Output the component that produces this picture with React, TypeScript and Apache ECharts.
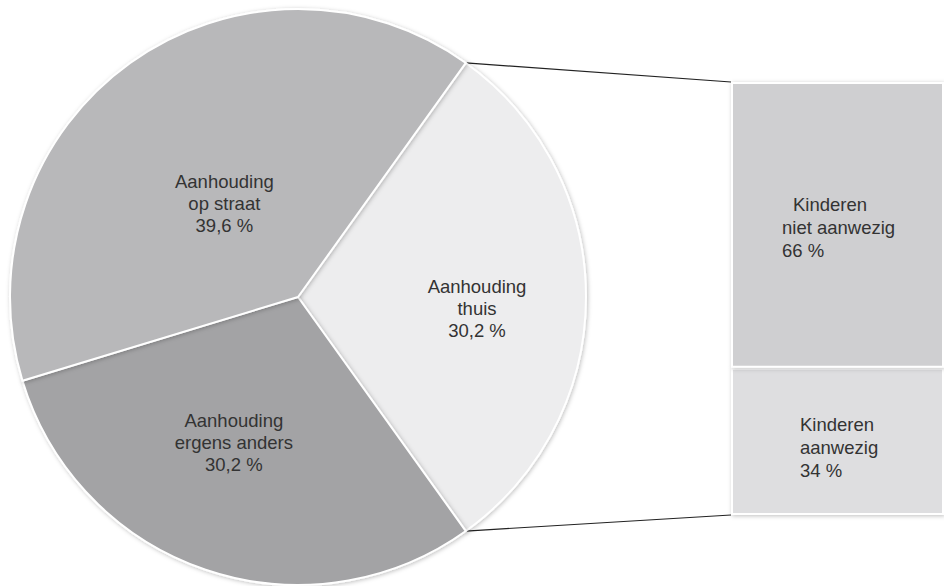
import React, { useEffect, useRef } from "react";
import * as echarts from "echarts";

const pieNames = ["Aanhouding\nthuis", "Aanhouding\nergens anders", "Aanhouding\nop straat"];
const pieValues = [30.2, 30.2, 39.6];
const pieLabels = ["30,2 %", "30,2 %", "39,6 %"];
const barNames = ["Kinderen\naanwezig", "Kinderen\nniet aanwezig"];
const barValues = [34, 66];
const barLabels = ["34 %", "66 %"];

const PIE_COLORS = ["#ededee", "#a3a3a5", "#b8b8ba"];
const BAR_COLORS = ["#dedee0", "#cfcfd1"];
const FONT = "Liberation Sans, Arial, sans-serif";

export default function App() {
  const ref = useRef<HTMLDivElement>(null);
  useEffect(() => {
    if (!ref.current) return;
    const chart = echarts.init(ref.current, undefined, { renderer: "svg" });
    const H = 586;
    const cx = 298, cy = 297, R = 288;
    const total = pieValues.reduce((a, b) => a + b, 0);
    const startAngle = (pieValues[0] / total) * 360 / 2;
    const gridLeft = 731, gridTop = 82, gridBottom = 71;
    const rad = (startAngle * Math.PI) / 180;
    const pTop = [cx + R * Math.cos(rad), cy - R * Math.sin(rad)];
    const pBot = [cx + R * Math.cos(rad), cy + R * Math.sin(rad)];
    const labelOffsets = [[32, 11], [-17, 6], [12, 26]];

    chart.setOption({
      animation: false,
      backgroundColor: "#ffffff",
      grid: { left: gridLeft, top: gridTop, bottom: gridBottom, right: -40 },
      xAxis: { type: "category", data: ["k"], show: false },
      yAxis: { type: "value", min: 0, max: 100, show: false },
      graphic: [
        { type: "line", shape: { x1: pTop[0], y1: pTop[1], x2: gridLeft, y2: gridTop }, style: { stroke: "#222", lineWidth: 1.2 }, z: 1 },
        { type: "line", shape: { x1: pBot[0], y1: pBot[1], x2: gridLeft, y2: H - gridBottom }, style: { stroke: "#222", lineWidth: 1.2 }, z: 1 },
      ],
      series: [
        {
          type: "pie",
          center: [cx, cy],
          radius: [0, R],
          startAngle,
          clockwise: true,
          silent: true,
          data: pieValues.map((v, i) => ({
            value: v,
            name: pieNames[i],
            itemStyle: { color: PIE_COLORS[i] },
          })),
          itemStyle: {
            borderColor: "#ffffff",
            borderWidth: 2,
            shadowBlur: 4,
            shadowColor: "rgba(0,0,0,0.25)",
            shadowOffsetX: 1,
            shadowOffsetY: 1,
          },
          label: {
            show: true,
            position: "inside",
            formatter: (p: any) => p.name + "\n" + pieLabels[p.dataIndex],
            color: "#333",
            fontFamily: FONT,
            fontSize: 18.5,
            lineHeight: 22,
            align: "center",
          },
          labelLine: { show: false },
          labelLayout: (p: any) => ({ dx: labelOffsets[p.dataIndex][0], dy: labelOffsets[p.dataIndex][1] }),
        },
        ...barValues.map((v, i) => ({
          type: "bar",
          stack: "k",
          barWidth: "100%",
          silent: true,
          data: [v],
          itemStyle: {
            color: BAR_COLORS[i],
            borderColor: "#ffffff",
            borderWidth: 2,
            shadowBlur: 4,
            shadowColor: "rgba(0,0,0,0.25)",
            shadowOffsetX: 1,
            shadowOffsetY: 1,
          },
          label: {
            show: true,
            position: "insideLeft",
            distance: i === 0 ? 69 : 51,
            offset: [0, i === 0 ? 6 : 3],
            align: "left",
            formatter: () => {
              const parts = barNames[i].split("\n");
              if (i === 1) return "{a|" + parts[0] + "}\n{b|" + parts[1] + "}\n{b|" + barLabels[i] + "}";
              return "{b|" + parts[0] + "}\n{b|" + parts[1] + "}\n{b|" + barLabels[i] + "}";
            },
            rich: {
              a: { color: "#333", fontFamily: FONT, fontSize: 18.5, lineHeight: 23, padding: [0, 0, 0, 11] },
              b: { color: "#333", fontFamily: FONT, fontSize: 18.5, lineHeight: 23 },
            },
          },
        })),
      ],
    });
    return () => chart.dispose();
  }, []);
  return <div ref={ref} style={{ position: "fixed", left: 0, top: 0, width: 944, height: 586 }} />;
}
